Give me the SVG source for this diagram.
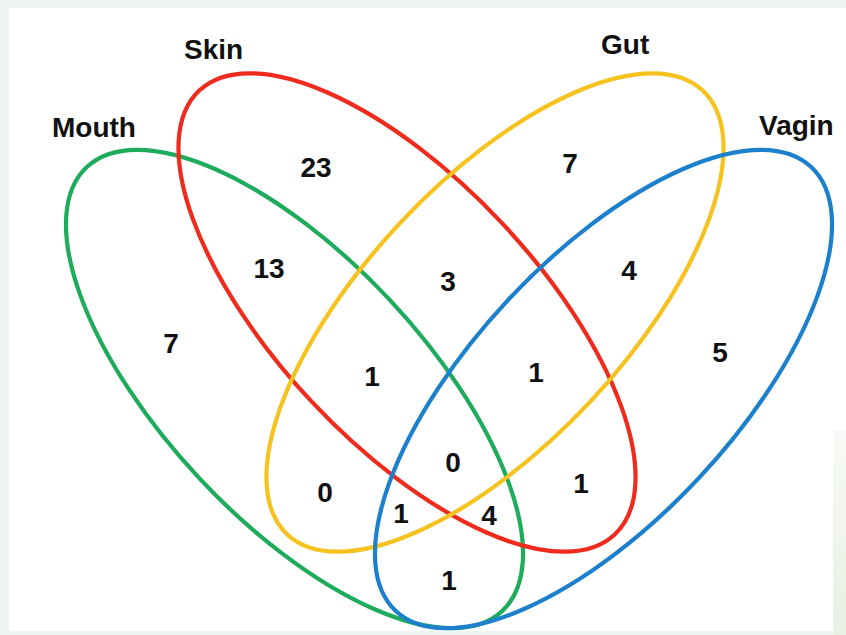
<svg xmlns="http://www.w3.org/2000/svg" width="846" height="635" viewBox="0 0 846 635">
  <defs>
    <style>
      .set { fill: none; stroke-width: 4.2; }
      .lbl { font-family: "Liberation Sans", Arial, sans-serif; font-weight: bold; font-size: 28px; fill: #111; }
      .num { font-family: "Liberation Sans", Arial, sans-serif; font-weight: bold; font-size: 28px; fill: #111; text-anchor: middle; }
    </style>
    <linearGradient id="bgr" x1="0" y1="0" x2="0" y2="1">
      <stop offset="0" stop-color="#f7faf6"/>
      <stop offset="1" stop-color="#e9efe3"/>
    </linearGradient>
    <clipPath id="clipw">
      <rect x="0" y="0" width="833" height="635"/>
    </clipPath>
  </defs>
  <rect x="0" y="0" width="846" height="635" fill="#eef4f0"/>
  <rect x="9" y="8" width="837" height="623" fill="#ffffff"/>
  <rect x="833" y="430" width="13" height="205" fill="url(#bgr)"/>

  <g id="mouth">
    <ellipse class="set" cx="294.5" cy="389" rx="304" ry="130.5" transform="rotate(46.9 294.5 389)" stroke="#1eab5c"/>
    <text class="lbl" x="52" y="137">Mouth</text>
  </g>
  <g id="skin">
    <ellipse class="set" cx="407" cy="312.5" rx="304" ry="130.5" transform="rotate(46.9 407 312.5)" stroke="#ee2b1c"/>
    <text class="lbl" x="184" y="59">Skin</text>
  </g>
  <g id="gut">
    <ellipse class="set" cx="495" cy="312.5" rx="304" ry="130.5" transform="rotate(-46.9 495 312.5)" stroke="#f6c21f"/>
    <text class="lbl" x="601" y="54">Gut</text>
  </g>
  <g id="vagina">
    <ellipse class="set" cx="603.5" cy="389" rx="304" ry="130.5" transform="rotate(-46.9 603.5 389)" stroke="#1d80cd"/>
    <text class="lbl" x="759" y="135" clip-path="url(#clipw)">Vagin</text>
  </g>

  <g id="counts">
    <text class="num" x="316" y="177">23</text>
    <text class="num" x="269" y="278">13</text>
    <text class="num" x="171" y="353">7</text>
    <text class="num" x="570" y="173">7</text>
    <text class="num" x="448" y="291">3</text>
    <text class="num" x="629" y="280">4</text>
    <text class="num" x="720" y="362">5</text>
    <text class="num" x="372" y="386">1</text>
    <text class="num" x="536" y="382">1</text>
    <text class="num" x="453" y="472">0</text>
    <text class="num" x="325" y="502">0</text>
    <text class="num" x="581" y="493">1</text>
    <text class="num" x="401" y="523">1</text>
    <text class="num" x="489" y="525">4</text>
    <text class="num" x="449" y="590">1</text>
  </g>
</svg>
